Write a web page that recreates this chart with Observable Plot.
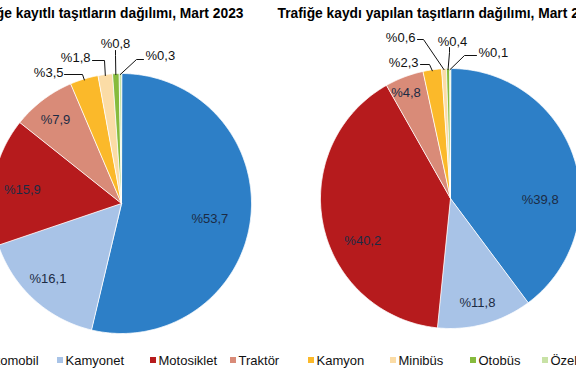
<!DOCTYPE html>
<html><head><meta charset="utf-8">
<script src="https://cdn.jsdelivr.net/npm/d3@7"></script>
<script src="https://cdn.jsdelivr.net/npm/@observablehq/plot@0.6"></script>
<style>
body{margin:0;background:#fff;overflow:hidden}
#chart{width:576px;height:375px;overflow:hidden;position:relative}
</style>
</head><body><div id="chart"></div>
<script>
// ---- data ----
const categories = ["Otomobil","Kamyonet","Motosiklet","Traktör","Kamyon","Minibüs","Otobüs","Özel amaçlı taşıtlar"];
const registered = [53.7,16.1,15.9,7.9,3.5,1.8,0.8,0.3];   // Trafiğe kayıtlı
const newlyRegistered = [39.8,11.8,40.2,4.8,2.3,0.6,0.4,0.1]; // Trafiğe kaydı yapılan
const titles = ["Trafiğe kayıtlı taşıtların dağılımı, Mart 2023","Trafiğe kaydı yapılan taşıtların dağılımı, Mart 2023"];
const colors = ["#2d7fc7","#a8c3e7","#b61b1d","#d98b78","#fbb92a","#fbdca6","#86bb3d","#c8e2a6"];

// ---- layout (not data) ----
const pies = [
  {values: registered, cx: 121, cy: 203, r: 130, titleX: 243, titleAnchor: "end",
   inside: [{n:3,f:0.69},{n:2,f:0.81},{n:-2,f:0.77},{n:-1,f:0.82}]},
  {values: newlyRegistered, cx: 450, cy: 198, r: 130, titleX: 277, titleAnchor: "start",
   inside: [{n:19,f:0.69},{n:1,f:0.83},{n:-14,f:0.75},{n:-2,f:0.88}]}
];
// callouts: pie, slice index, label pos/anchor, leader start, elbow
const callouts = [
  {p:0,i:4,lx:63,ly:72,a:"end",sx:64,sy:74,ex:82,ey:74},
  {p:0,i:5,lx:90,ly:57,a:"end",sx:92,sy:60,ex:104,ey:60},
  {p:0,i:6,lx:115,ly:43,a:"middle",sx:115,sy:50,ex:115,ey:55},
  {p:0,i:7,lx:145,ly:55,a:"start",sx:143,sy:59,ex:136,ey:59},
  {p:1,i:4,lx:418,ly:62,a:"end",sx:420,sy:64,ex:429,ey:64},
  {p:1,i:5,lx:415,ly:37,a:"end",sx:417,sy:39,ex:423,ey:39},
  {p:1,i:6,lx:452,ly:41,a:"middle",sx:449,sy:47,ex:449,ey:52},
  {p:1,i:7,lx:478,ly:52,a:"start",sx:476,sy:55,ex:464,ey:55}
];
const legendX = [-14,65,158,238,316,398,478,550];
const legendY = 360;

const fmt = v => "%" + v.toFixed(1).replace(".", ",");
const rad = d => d * Math.PI / 180;
const pt = (P, a, rr) => [P.cx + rr * Math.sin(a), P.cy - rr * Math.cos(a)];

const slices = [], insideLabels = [], leaders = [], outsideLabels = [];
pies.forEach((P, pi) => {
  const arcs = d3.pie().sort(null).value(d => d)(P.values);
  P.arcs = arcs;
  arcs.forEach((a, i) => {
    const key = pi + "-" + i;
    const n = Math.max(2, Math.ceil((a.endAngle - a.startAngle) / rad(0.5)));
    slices.push({key, cat: categories[i], x: P.cx, y: P.cy});
    for (let k = 0; k <= n; k++) {
      const t = a.startAngle + (a.endAngle - a.startAngle) * k / n;
      const [x, y] = pt(P, t, P.r);
      slices.push({key, cat: categories[i], x, y});
    }
    if (i < 4) {
      const L = P.inside[i];
      const mid = (a.startAngle + a.endAngle) / 2 + rad(L.n);
      const [x, y] = pt(P, mid, P.r * L.f);
      insideLabels.push({x, y, text: fmt(a.data)});
    }
  });
});
callouts.forEach((c, j) => {
  const P = pies[c.p], a = P.arcs[c.i];
  const mid = (a.startAngle + a.endAngle) / 2;
  const [x, y] = pt(P, mid, P.r - 1);
  leaders.push({id: j, x: c.sx, y: c.sy}, {id: j, x: c.ex, y: c.ey}, {id: j, x, y});
  outsideLabels.push({x: c.lx, y: c.ly, a: c.a, text: fmt(P.values[c.i])});
});
const titleData = pies.map((P, i) => ({x: P.titleX, y: 13, a: P.titleAnchor, text: titles[i]}));
const legend = categories.map((c, i) => ({cat: c, x: legendX[i], y: legendY}));

const font = "'Liberation Sans', Arial, sans-serif";
const chart = Plot.plot({
  width: 576, height: 375, margin: 0,
  x: {domain: [0, 576], range: [0, 576], axis: null},
  y: {domain: [0, 375], range: [0, 375], axis: null},
  color: {domain: categories, range: colors},
  style: {fontFamily: font, background: "#fff", overflow: "hidden"},
  marks: [
    Plot.line(slices, {x: "x", y: "y", z: "key", fill: "cat", stroke: "#fff", strokeWidth: 0.8, curve: "linear-closed"}),
    Plot.line(leaders, {x: "x", y: "y", z: "id", stroke: "#111", strokeWidth: 1}),
    Plot.text(insideLabels, {x: "x", y: "y", text: "text", fontSize: 13, fill: "#1c2b44"}),
    Plot.text(outsideLabels.filter(d => d.a === "end"), {x: "x", y: "y", text: "text", textAnchor: "end", fontSize: 13, fill: "#111"}),
    Plot.text(outsideLabels.filter(d => d.a === "start"), {x: "x", y: "y", text: "text", textAnchor: "start", fontSize: 13, fill: "#111"}),
    Plot.text(outsideLabels.filter(d => d.a === "middle"), {x: "x", y: "y", text: "text", fontSize: 13, fill: "#111"}),
    Plot.text(titleData.filter(d => d.a === "end"), {x: "x", y: "y", text: "text", textAnchor: "end", fontSize: 13.8, fontWeight: "bold", fill: "#000"}),
    Plot.text(titleData.filter(d => d.a === "start"), {x: "x", y: "y", text: "text", textAnchor: "start", fontSize: 13.8, fontWeight: "bold", fill: "#000"}),
    Plot.rect(legend, {x1: d => d.x - 8, x2: d => d.x - 2, y1: d => d.y - 3, y2: d => d.y + 3, fill: "cat"}),
    Plot.text(legend, {x: "x", y: "y", text: "cat", textAnchor: "start", fontSize: 13, fill: "#111"})
  ]
});
document.getElementById("chart").appendChild(chart);
</script>
</body></html>
